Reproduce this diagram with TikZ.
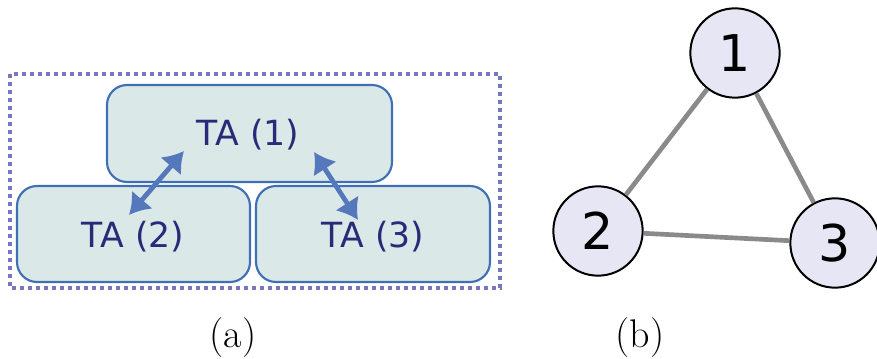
\documentclass[tikz,border=0pt]{standalone}
\usepackage{fontspec}
\setmainfont{Latin Modern Roman}
\newfontfamily\dejavu{DejaVu Sans}
\usetikzlibrary{arrows.meta}
\definecolor{taedge}{HTML}{3F6FB5}
\definecolor{tafill}{HTML}{D3E4E4}
\definecolor{tatext}{HTML}{2A2A78}
\definecolor{arrowblue}{HTML}{5577BB}
\definecolor{groupline}{HTML}{7777C0}
\definecolor{vfill}{HTML}{E6E6F4}
\definecolor{edgegray}{HTML}{8A8A8A}
\tikzset{
  tabox/.style={draw=taedge, line width=1.6pt, fill=tafill, fill opacity=0.85,
    text opacity=1, rounded corners=15pt},
  talabel/.style={text=tatext, font=\dejavu\fontsize{26}{30}\selectfont},
  link/.style={arrowblue, line width=3.6pt,
    {Latex[length=15pt,width=21pt]}-{Latex[length=15pt,width=21pt]}},
  group/.style={draw=groupline, line width=3pt, dash pattern=on 3pt off 3pt},
  vertex/.style={circle, draw=black, line width=1.5pt, fill=vfill,
    minimum size=67pt, inner sep=0pt, font=\dejavu\fontsize{38}{42}\selectfont},
  gedge/.style={edgegray, line width=3.5pt},
  caption/.style={font=\fontsize{30}{35}\selectfont}
}
\begin{document}
\begin{tikzpicture}[x=0.75pt, y=-0.75pt]
\useasboundingbox (0,0) rectangle (877,359);

% (a) three TA nodes inside a dotted group
\draw[group] (10,74) rectangle (500,288);
\draw[tabox] (107,85) rectangle (392,182);
\draw[tabox] (17,186) rectangle (250,282);
\draw[tabox] (256,186) rectangle (490,282);
\node[talabel] (ta1) at (248,135) {TA (1)};
\node[talabel] (ta2) at (133,237) {TA (2)};
\node[talabel] (ta3) at (373,237) {TA (3)};
\coordinate (a1s) at (129,215);
\coordinate (a1e) at (184,151);
\coordinate (a2s) at (314,152);
\coordinate (a2e) at (358,220);
\draw[link] (a1s) -- (a1e);
\draw[link] (a2s) -- (a2e);

% (b) the same three nodes as a graph
\node[vertex] (v1) at (735,53) {1};
\node[vertex] (v2) at (598,231) {2};
\node[vertex] (v3) at (835,243) {3};
\draw[gedge] (v1) -- (v2);
\draw[gedge] (v1) -- (v3);
\draw[gedge] (v2) -- (v3);

% captions
\node[caption] (capa) at (233,338) {(a)};
\node[caption] (capb) at (640,338) {(b)};
\end{tikzpicture}
\end{document}
